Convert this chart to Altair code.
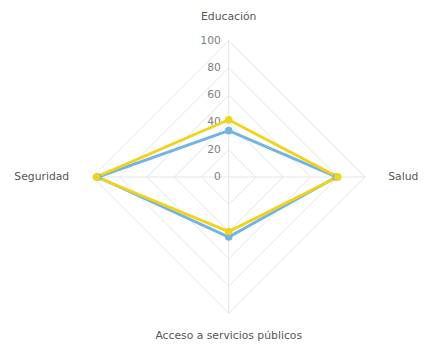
import math
import altair as alt
import pandas as pd

categories = ["Educación", "Salud", "Acceso a servicios públicos", "Seguridad"]
series_names = ["Serie 1", "Serie 2"]
series_blue = [34, 79, 44, 96]
series_yellow = [42, 80, 40, 97]
grid_levels = [20, 40, 60, 80, 100]
tick_values = [0, 20, 40, 60, 80, 100]
colors = ["#72b4e2", "#f1d21c"]

n = len(categories)

def pos(i, v):
    a = 2 * math.pi * i / n
    return v * math.sin(a), v * math.cos(a)

rows = []
for s, vals in zip(series_names, [series_blue, series_yellow]):
    for k in range(n + 1):
        i = k % n
        x, y = pos(i, vals[i])
        rows.append({"series": s, "order": k, "x": x, "y": y, "cat": categories[i], "value": vals[i]})
df = pd.DataFrame(rows)
pts = df[df["order"] < n]

grows = []
for lv in grid_levels:
    for k in range(n + 1):
        x, y = pos(k % n, lv)
        grows.append({"level": lv, "order": k, "x": x, "y": y})
gdf = pd.DataFrame(grows)

srows = []
for i in range(n):
    x, y = pos(i, 100)
    srows.append({"x": 0, "y": 0, "x2": x, "y2": y})
sdf = pd.DataFrame(srows)

tdf = pd.DataFrame({"x": [0] * len(tick_values), "y": tick_values, "t": [str(v) for v in tick_values]})

xs = alt.Scale(domain=[-100, 100])
ys = alt.Scale(domain=[-100, 100])
X = lambda f="x": alt.X(f, type="quantitative", scale=xs, axis=None)
Y = lambda f="y": alt.Y(f, type="quantitative", scale=ys, axis=None)

grid = alt.Chart(gdf).mark_line(color="#e4e4e4", strokeWidth=1).encode(
    x=X(), y=Y(), detail="level:N", order="order:Q")
spokes = alt.Chart(sdf).mark_rule(color="#e4e4e4", strokeWidth=1).encode(
    x=X(), y=Y(), x2="x2:Q", y2="y2:Q")
ticks = alt.Chart(tdf).mark_text(align="right", baseline="middle", dx=-8, fontSize=11,
                                 font="DejaVu Sans", color="#808080").encode(
    x=X(), y=Y(), text="t:N")

cscale = alt.Scale(domain=series_names, range=colors)
lines = alt.Chart(df).mark_line(strokeWidth=3).encode(
    x=X(), y=Y(), color=alt.Color("series:N", scale=cscale, legend=None),
    detail="series:N", order="order:Q")
points = alt.Chart(pts).mark_circle(size=60, opacity=1).encode(
    x=X(), y=Y(), color=alt.Color("series:N", scale=cscale, legend=None))

lab_df = pd.DataFrame({
    "cat": categories,
    "x": [0, 117, 0, -117],
    "y": [117, 0, -117, 0],
    "align": ["center", "left", "center", "right"],
})
labels = []
for _, r in lab_df.iterrows():
    labels.append(alt.Chart(lab_df[lab_df["cat"] == r["cat"]]).mark_text(
        align=r["align"], baseline="middle", fontSize=11, font="DejaVu Sans", color="#555555").encode(
        x=X(), y=Y(), text="cat:N"))

chart = alt.layer(grid, spokes, ticks, lines, points, *labels).properties(
    width=278, height=278,
    autosize=alt.AutoSizeParams(type="none"),
    padding={"left": 86, "top": 30, "right": 56, "bottom": 31},
).configure_view(stroke=None)

chart.save("out.html", embed_options={"renderer": "svg", "actions": False})
